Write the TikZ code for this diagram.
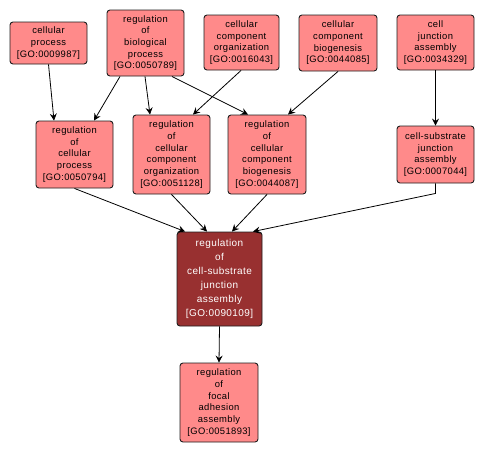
\documentclass[tikz,border=0pt]{standalone}
\usepackage{fontspec}
\setmainfont{Liberation Sans}[LetterSpace=4]
\usetikzlibrary{arrows.meta}
\definecolor{boxfill}{RGB}{255,138,138}
\definecolor{mainfill}{RGB}{152,48,48}
\definecolor{edgecol}{RGB}{30,30,30}
\tikzset{
  gobox/.style={draw=edgecol, line width=0.9pt, fill=boxfill, rounded corners=3pt, align=center, inner sep=0pt,
    font=\fontsize{9.4}{11.7}\selectfont, text=black},
  mainbox/.style={gobox, fill=mainfill, text=white},
  conn/.style={draw=black, line width=0.8pt, -{Stealth[length=7pt,width=7pt,inset=2.5pt]}}
}
\begin{document}
\begin{tikzpicture}[x=1pt,y=-1pt]
\useasboundingbox (0,0) rectangle (486,453);
\fill[white] (0,0) rectangle (486,453);
\node[gobox, minimum width=77, minimum height=42] (A) at (48.5,43) {cellular\\process\\{[GO:0009987]}};
\node[gobox, minimum width=77, minimum height=66] (B) at (145.5,43) {regulation\\of\\biological\\process\\{[GO:0050789]}};
\node[gobox, minimum width=75, minimum height=55] (C) at (241.5,42.5) {cellular\\component\\organization\\{[GO:0016043]}};
\node[gobox, minimum width=78, minimum height=56] (D) at (338,43) {cellular\\component\\biogenesis\\{[GO:0044085]}};
\node[gobox, minimum width=77, minimum height=55] (E) at (435.5,42.5) {cell\\junction\\assembly\\{[GO:0034329]}};
\node[gobox, minimum width=77, minimum height=67] (F) at (74.5,154.5) {regulation\\of\\cellular\\process\\{[GO:0050794]}};
\node[gobox, minimum width=77, minimum height=79] (G) at (171.5,154.5) {regulation\\of\\cellular\\component\\organization\\{[GO:0051128]}};
\node[gobox, minimum width=78, minimum height=79] (H) at (267,154.5) {regulation\\of\\cellular\\component\\biogenesis\\{[GO:0044087]}};
\node[gobox, minimum width=77, minimum height=57] (I) at (435.5,154.5) {cell-substrate\\junction\\assembly\\{[GO:0007044]}};
\node[mainbox, minimum width=85, minimum height=94, font=\fontsize{10}{13.9}\selectfont] (J) at (219.5,279) {regulation\\of\\cell-substrate\\junction\\assembly\\{[GO:0090109]}};
\node[gobox, minimum width=78, minimum height=79] (K) at (219,402.5) {regulation\\of\\focal\\adhesion\\assembly\\{[GO:0051893]}};
\draw[conn] (A.south) -- ([xshift=-20.5pt]F.north);
\draw[conn] ([xshift=-25.5pt]B.south) -- ([xshift=19.5pt]F.north);
\draw[conn] ([xshift=-0.5pt]B.south) -- ([xshift=-21.5pt]G.north);
\draw[conn] ([xshift=26.5pt]B.south) -- ([xshift=-19pt]H.north);
\draw[conn] ([xshift=-0.5pt]C.south) -- ([xshift=21.5pt]G.north);
\draw[conn] (D.south) -- ([xshift=21pt]H.north);
\draw[conn] (E.south) -- (I.north);
\draw[conn] (F.south) -- ([xshift=-34.5pt]J.north);
\draw[conn] (G.south) -- ([xshift=-12.5pt]J.north);
\draw[conn] (H.south) -- ([xshift=12.5pt]J.north);
\draw[conn] (I.south) -- ++(0,10) -- ([xshift=33.5pt]J.north);
\draw[conn] (J.south) -- (K.north);
\end{tikzpicture}
\end{document}
